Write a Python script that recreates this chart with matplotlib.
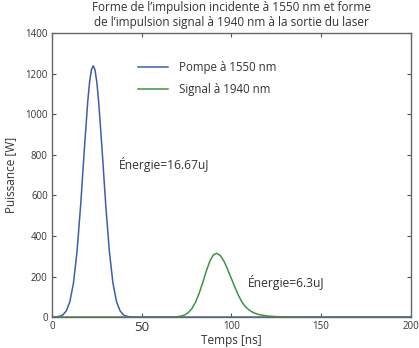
import matplotlib.pyplot as plt

# Pump pulse at 1550 nm
t_pompe = [0, 2, 4, 6, 8, 10, 12, 14, 16, 18, 20, 21, 22, 23, 24, 25, 26,
           28, 30, 32, 34, 36, 38, 40, 42, 44, 46, 48, 200]
p_pompe = [0.2, 0.8, 3, 10, 30, 76, 168, 325, 552, 820, 1069, 1161, 1220, 1240,
           1220, 1161, 1069, 820, 552, 325, 168, 76, 30, 10, 3, 0.8, 0.2, 0, 0]

# Signal pulse at 1940 nm
t_signal = [0, 66, 68, 70, 72, 74, 76, 78, 80, 82, 84, 86, 88, 90, 92, 94, 96,
            98, 100, 102, 104, 106, 108, 110, 112, 115, 120, 125, 130, 135, 200]
p_signal = [0, 0, 0.6, 1.8, 4.6, 10, 22, 41, 72, 115, 168, 225, 275, 307, 315,
            302, 274, 235, 191, 147, 107, 73, 50, 34, 23, 13, 5, 2, 1, 0, 0]

plt.rcParams['font.family'] = ['Open Sans', 'DejaVu Sans']

fig = plt.figure(figsize=(4.19, 3.48), dpi=100)
ax = fig.add_axes([0.124, 0.089, 0.856, 0.815])

ax.plot(t_pompe, p_pompe, color='#3a5fb0', lw=1.1, label='Pompe à 1550 nm')
ax.plot(t_signal, p_signal, color='#3d9445', lw=1.1, label='Signal à 1940 nm')

ax.set_xlim(0, 200)
ax.set_ylim(0, 1400)
ax.set_xticks([0, 50, 100, 150, 200])
ax.set_yticks(range(0, 1401, 200))
ax.tick_params(direction='in', top=True, right=True, length=3, width=0.8,
               labelsize=7, colors='#555555', labelcolor='#333333', pad=3)
for lab in ax.get_xticklabels():
    if lab.get_text() == '50':
        lab.set_fontsize(9.5)
for s in ax.spines.values():
    s.set_color('#666666')
    s.set_linewidth(1.0)

ax.set_xlabel('Temps [ns]', fontsize=8.5, color='#333333', labelpad=0)
ax.set_ylabel('Puissance [W]', fontsize=8.5, color='#333333', labelpad=6)
ax.set_title("Forme de l’impulsion incidente à 1550 nm et forme\n"
             "de l’impulsion signal à 1940 nm à la sortie du laser",
             fontsize=8.5, color='#333333', pad=5, linespacing=1.25)

ax.text(37.3, 755, 'Énergie=16.67uJ', fontsize=8.7, color='#333333', va='center')
ax.text(109.2, 168, 'Énergie=6.3uJ', fontsize=8.7, color='#333333', va='center')

ax.legend(loc='upper left', bbox_to_anchor=(0.228, 0.918), frameon=False,
          fontsize=8.3, handlelength=2.55, handletextpad=0.95, labelspacing=0.78,
          labelcolor='#333333', borderaxespad=0)

fig.savefig('out.png', dpi=100)
